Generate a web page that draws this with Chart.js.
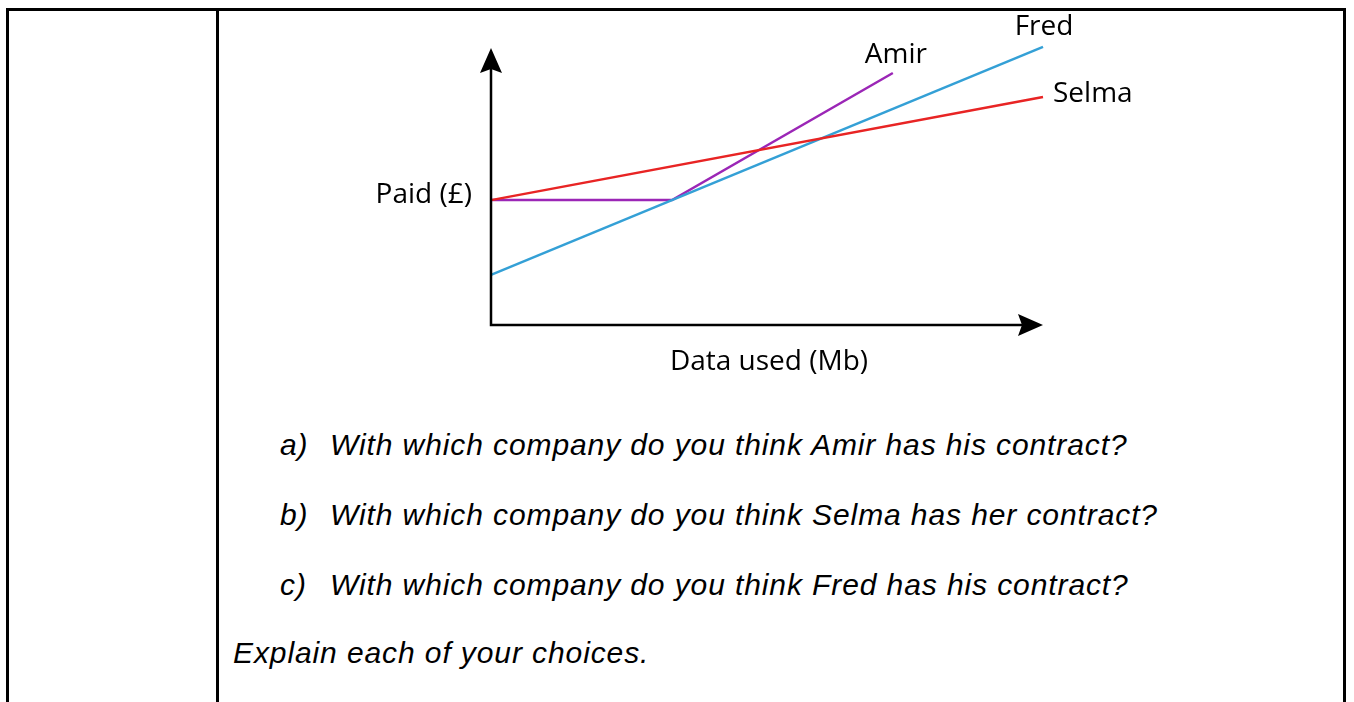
<!DOCTYPE html>
<html>
<head>
<meta charset="utf-8">
<script src="https://cdn.jsdelivr.net/npm/chart.js@4.4.1/dist/chart.umd.min.js"></script>
<style>
  html, body { margin: 0; padding: 0; background: #fff; }
  body { width: 1354px; height: 702px; position: relative; overflow: hidden; }
  .frame { position: absolute; left: 6px; top: 8px; width: 1334px; height: 720px;
           border: 3px solid #000; border-bottom: none; }
  .divider { position: absolute; left: 216px; top: 8px; width: 3px; height: 720px; background: #000; }
  .grafico { position: absolute; left: 0; top: 0; width: 1354px; height: 400px; }
  .q { position: absolute; margin: 0; font-family: "Liberation Sans", Arial, sans-serif;
       font-style: italic; font-size: 30px; line-height: 30px; letter-spacing: 0.9px;
       color: #000; white-space: nowrap; }
  .q span.lbl { position: absolute; left: 0; }
  .q span.txt { position: absolute; left: 50px; }
</style>
</head>
<body>
<div class="frame"></div>
<div class="divider"></div>
<div class="grafico"><canvas id="Mychart"></canvas></div>

<p class="q" style="left:280px; top:430px;"><span class="lbl">a)</span><span class="txt">With which company do you think Amir has his contract?</span></p>
<p class="q" style="left:280px; top:500px;"><span class="lbl">b)</span><span class="txt">With which company do you think Selma has her contract?</span></p>
<p class="q" style="left:280px; top:570px;"><span class="lbl">c)</span><span class="txt">With which company do you think Fred has his contract?</span></p>
<p class="q" style="left:233px; top:638px;">Explain each of your choices.</p>

<script>
// dados (sem escala numerica no original)
const nomes = ['Amir', 'Fred', 'Selma']
const amirDados = [0, 3.28, 7.28]
const amirPago = [4.46, 4.46, 9.0]
const fredDados = [0, 10]
const fredPago = [1.79, 9.93]
const selmaDados = [0, 10]
const selmaPago = [4.46, 8.14]

const tituloX = 'Data used (Mb)'
const tituloY = 'Paid (£)'

function pontos(xs, ys) {
    return xs.map((x, i) => ({ x: x, y: ys[i] }))
}

const cores = {
    Amir: 'rgb(155, 38, 182)',
    Fred: 'rgb(52, 160, 214)',
    Selma: 'rgb(232, 36, 36)'
}

const data = {
    datasets: [
        { label: nomes[2], data: pontos(selmaDados, selmaPago), borderColor: cores.Selma },
        { label: nomes[1], data: pontos(fredDados, fredPago), borderColor: cores.Fred },
        { label: nomes[0], data: pontos(amirDados, amirPago), borderColor: cores.Amir }
    ].map(d => Object.assign(d, {
        showLine: true, pointRadius: 0, borderWidth: 2.5, tension: 0, clip: false
    }))
}

/* desenha eixos com setas e os rotulos */
const eixos = {
    id: 'eixos',
    afterDatasetsDraw(chart) {
        const ctx = chart.ctx
        const sx = chart.scales.x
        const sy = chart.scales.y
        const x0 = sx.getPixelForValue(0)
        const y0 = sy.getPixelForValue(0)
        const xFim = sx.getPixelForValue(10)
        const yFim = chart.chartArea.top + 3

        ctx.save()
        ctx.strokeStyle = '#000'
        ctx.fillStyle = '#000'
        ctx.lineWidth = 2.5
        ctx.beginPath()
        ctx.moveTo(x0, yFim + 20)
        ctx.lineTo(x0, y0)
        ctx.lineTo(xFim - 20, y0)
        ctx.stroke()

        // seta vertical
        ctx.beginPath()
        ctx.moveTo(x0, yFim)
        ctx.lineTo(x0 + 11, yFim + 25)
        ctx.lineTo(x0, yFim + 21)
        ctx.lineTo(x0 - 11, yFim + 25)
        ctx.closePath()
        ctx.fill()

        // seta horizontal
        ctx.beginPath()
        ctx.moveTo(xFim, y0)
        ctx.lineTo(xFim - 25, y0 - 11)
        ctx.lineTo(xFim - 21, y0)
        ctx.lineTo(xFim - 25, y0 + 11)
        ctx.closePath()
        ctx.fill()

        ctx.font = '28px "Open Sans", "Noto Sans", sans-serif'
        ctx.textBaseline = 'alphabetic'

        ctx.textAlign = 'center'
        ctx.fillText(tituloX, (x0 + xFim) / 2 + 2, y0 + 45)
        ctx.textAlign = 'right'
        ctx.fillText(tituloY, x0 - 19, sy.getPixelForValue(selmaPago[0]) + 3)

        // nomes no fim de cada linha
        const fimFred = { x: sx.getPixelForValue(fredDados[1]), y: sy.getPixelForValue(fredPago[1]) }
        const fimAmir = { x: sx.getPixelForValue(amirDados[2]), y: sy.getPixelForValue(amirPago[2]) }
        const fimSelma = { x: sx.getPixelForValue(selmaDados[1]), y: sy.getPixelForValue(selmaPago[1]) }
        ctx.textAlign = 'center'
        ctx.fillText(nomes[1], fimFred.x + 1, fimFred.y - 12)
        ctx.fillText(nomes[0], fimAmir.x + 3, fimAmir.y - 10)
        ctx.textAlign = 'left'
        ctx.fillText(nomes[2], fimSelma.x + 10, fimSelma.y + 5)
        ctx.restore()
    }
}

const config = {
    type: 'scatter',
    data: data,
    options: {
        responsive: true,
        maintainAspectRatio: false,
        animation: false,
        layout: { padding: { left: 491, right: 311, top: 45, bottom: 75 } },
        scales: {
            x: { type: 'linear', min: 0, max: 10, display: false },
            y: { type: 'linear', min: 0, max: 10, display: false }
        },
        plugins: { legend: { display: false }, tooltip: { enabled: false } }
    },
    plugins: [eixos]
}

let graf = document.getElementById('Mychart').getContext('2d')
let myChart = new Chart(graf, config)
</script>
</body>
</html>
